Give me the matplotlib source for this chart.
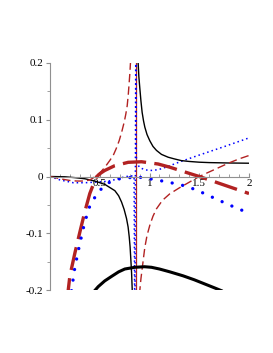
import matplotlib
matplotlib.use("Agg")
import matplotlib.pyplot as plt

plt.rcParams['font.family'] = ['Liberation Serif', 'DejaVu Serif']

# asymptote position (x) of the singular curves
asymptote = 0.862

# thin black solid: left and right branches
blk_left_x = [0.0, 0.15, 0.25, 0.351, 0.45, 0.552, 0.652, 0.69, 0.719, 0.745, 0.769, 0.785, 0.796, 0.805,
              0.812, 0.82, 0.826, 0.832]
blk_left_y = [0.0, -0.0005, -0.002, -0.004, -0.008, -0.014, -0.025, -0.034, -0.045, -0.058, -0.074, -0.089,
              -0.106, -0.124, -0.145, -0.17, -0.198, -0.25]
blk_right_x = [0.882, 0.886, 0.893, 0.903, 0.914, 0.926, 0.94, 0.953, 0.975, 1.003, 1.035, 1.07, 1.12, 1.187,
               1.25, 1.32, 1.4, 1.5, 1.6, 1.8, 2.0]
blk_right_y = [0.25, 0.2, 0.176, 0.155, 0.133, 0.113, 0.098, 0.087, 0.074, 0.063, 0.053, 0.046, 0.039, 0.034,
               0.031, 0.028, 0.0265, 0.0252, 0.0245, 0.0238, 0.0234]

# thin red dashed: left and right branches
rdt_left_x = [0.0, 0.1, 0.2, 0.27, 0.35, 0.4, 0.43, 0.468, 0.51, 0.552, 0.6, 0.635, 0.665, 0.695, 0.72, 0.746,
              0.762, 0.776, 0.787, 0.796, 0.803, 0.809, 0.815]
rdt_left_y = [0.0, -0.004, -0.007, -0.008, -0.008, -0.006, -0.003, 0.0018, 0.008, 0.0164, 0.028, 0.037, 0.049,
              0.063, 0.078, 0.096, 0.11, 0.125, 0.145, 0.166, 0.183, 0.201, 0.23]
rdt_right_x = [0.898, 0.903, 0.914, 0.926, 0.94, 0.953, 0.975, 1.003, 1.035, 1.07, 1.13, 1.204, 1.3, 1.4, 1.5,
               1.6, 1.7, 1.8, 1.9, 2.0]
rdt_right_y = [-0.23, -0.2, -0.18, -0.163, -0.143, -0.125, -0.104, -0.086, -0.07, -0.057, -0.042, -0.0305,
               -0.02, -0.01, 0.0, 0.008, 0.016, 0.024, 0.031, 0.037]

# thin blue dotted
bdt_x = [0.0, 0.1, 0.234, 0.351, 0.45, 0.552, 0.62, 0.685, 0.74, 0.786, 0.82, 0.845, 0.853, 0.863, 0.865, 0.87,
         0.9, 0.95, 1.003, 1.05, 1.12, 1.204, 1.3, 1.47, 1.74, 2.0]
bdt_y = [0.0, -0.006, -0.011, -0.011, -0.010, -0.0088, -0.007, -0.004, -0.001, 0.0005, 0.001, 0.0, -0.3, 0.3,
         0.05, 0.025, 0.016, 0.012, 0.0106, 0.011, 0.0136, 0.019, 0.0255, 0.036, 0.052, 0.068]

# thick red long-dashed
rdk_x = [0.17, 0.2, 0.25, 0.3, 0.35, 0.4, 0.44, 0.47, 0.51, 0.55, 0.65, 0.786, 0.92, 1.087, 1.204, 1.3, 1.4,
         1.5, 1.6, 1.7, 1.8, 1.9, 2.0]
rdk_y = [-0.22, -0.175, -0.135, -0.098, -0.062, -0.03, -0.012, 0.0, 0.006, 0.0106, 0.019, 0.025, 0.026, 0.022,
         0.0164, 0.011, 0.0055, 0.0, -0.006, -0.012, -0.018, -0.024, -0.03]

# thick blue dots
bdk_x = [0.205, 0.217, 0.25, 0.3, 0.35, 0.4, 0.47, 0.53, 0.6, 0.7, 0.8, 0.886, 1.0, 1.1, 1.187, 1.3, 1.4, 1.5,
         1.6, 1.7, 1.8, 1.95]
bdk_y = [-0.22, -0.2, -0.16, -0.118, -0.08, -0.052, -0.031, -0.019, -0.010, -0.004, -0.002, -0.001, -0.004,
         -0.007, -0.010, -0.014, -0.019, -0.026, -0.034, -0.042, -0.050, -0.061]

# thick black solid
bk2_x = [0.40, 0.43, 0.485, 0.55, 0.619, 0.69, 0.752, 0.853, 0.95, 1.02, 1.1, 1.204, 1.337, 1.45, 1.55, 1.65,
         1.72]
bk2_y = [-0.215, -0.205, -0.194, -0.184, -0.176, -0.168, -0.163, -0.160, -0.159, -0.160, -0.163, -0.168,
         -0.175, -0.182, -0.189, -0.196, -0.201]

xticks = [0.5, 1, 1.5, 2]
xticklabels = ['0.5', '1', '1.5', '2']
yticks = [-0.2, -0.1, 0, 0.1, 0.2]
yticklabels = ['-0.2', '-0.1', '0', '0.1', '0.2']

red = '#b22222'
fig = plt.figure(figsize=(2.73, 3.53), dpi=100)
ax = fig.add_axes([50 / 273, 1 - 290 / 353, 199 / 273, 227 / 353])

ax.axvline(asymptote, color=red, lw=0.9)
ax.plot(bdt_x, bdt_y, color='blue', lw=1.1, linestyle=(0, (1, 2)))
ax.plot(blk_left_x, blk_left_y, color='black', lw=1.0)
ax.plot(blk_right_x, blk_right_y, color='black', lw=1.0)
ax.plot(rdt_left_x, rdt_left_y, color=red, lw=1.0, linestyle=(0, (6, 3)))
ax.plot(rdt_right_x, rdt_right_y, color=red, lw=1.0, linestyle=(0, (6, 3)))
ax.plot(rdk_x, rdk_y, color=red, lw=2.4, linestyle=(0, (7, 2.5)))
ax.plot(bdk_x, bdk_y, color='blue', lw=2.4, linestyle=(0, (0.01, 3.2)), dash_capstyle='round')
ax.plot(bk2_x, bk2_y, color='black', lw=2.2)

ax.set_xlim(0, 2)
ax.set_ylim(-0.2, 0.2)
for s in ['top', 'right']:
    ax.spines[s].set_visible(False)
ax.spines['bottom'].set_position(('data', 0))
ax.spines['left'].set_color('#909090')
ax.spines['bottom'].set_color('#909090')

ax.set_xticks(xticks)
ax.set_xticklabels(xticklabels)
ax.set_xticks([i / 10 for i in range(1, 21)], minor=True)
ax.set_yticks(yticks)
ax.set_yticklabels(yticklabels)
ax.set_yticks([-0.15, -0.05, 0.05, 0.15], minor=True)
ax.tick_params(axis='x', which='both', direction='in', color='#909090', labelsize=8, pad=2)
ax.tick_params(axis='x', which='major', length=3)
ax.tick_params(axis='x', which='minor', length=2)
ax.tick_params(axis='y', which='both', direction='out', color='#909090', labelsize=8, pad=2)
ax.tick_params(axis='y', which='major', length=3)
ax.tick_params(axis='y', which='minor', length=2)

fig.savefig('out.png', dpi=100)
